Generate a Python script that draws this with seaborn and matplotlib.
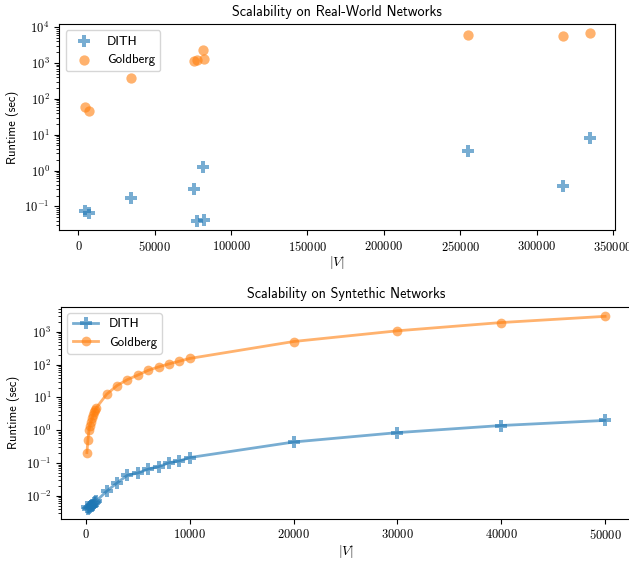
import math
import matplotlib
matplotlib.use("Agg")
import matplotlib.pyplot as plt
from matplotlib.ticker import FuncFormatter, LogLocator
import seaborn as sns
import pandas as pd

# ---------------- data ----------------
real_nodes = [4039, 7115, 34546, 75879, 77360, 81306, 82168, 255000, 317080, 334863]
real_dith = [0.075, 0.065, 0.17, 0.31, 0.040, 1.25, 0.043, 3.6, 0.37, 8.0]
real_goldberg = [58, 45, 380, 1150, 1230, 2300, 1300, 6000, 5700, 6700]

syn_nodes = [100, 200, 300, 400, 500, 600, 700, 800, 900, 1000,
             2000, 3000, 4000, 5000, 6000, 7000, 8000, 9000, 10000,
             20000, 30000, 40000, 50000]
syn_dith = [0.0045, 0.0040, 0.0043, 0.0046, 0.0048, 0.0051, 0.0055, 0.0060, 0.0065, 0.0070,
            0.014, 0.025, 0.043, 0.050, 0.066, 0.078, 0.103, 0.117, 0.148,
            0.44, 0.85, 1.40, 2.0]
syn_goldberg = [0.21, 0.52, 1.0, 1.4, 1.8, 2.3, 2.9, 3.5, 4.2, 4.8,
                12.5, 23, 35, 48, 67, 85, 105, 127, 154,
                505, 1070, 1910, 2950]

series_names = ["DITH", "Goldberg"]
colors = {"DITH": "#1f77b4", "Goldberg": "#ff7f0e"}
markers = {"DITH": "P", "Goldberg": "o"}

# ---------------- style ----------------
plt.rcParams["mathtext.fontset"] = "cm"
plt.rcParams["axes.formatter.use_mathtext"] = True
plt.rcParams["font.family"] = ["cmss10", "DejaVu Sans"]
plt.rcParams["axes.unicode_minus"] = False

fig = plt.figure(figsize=(6.29, 5.62), dpi=100)
W, H = 629, 562
def px_axes(l, t, r, b):
    return fig.add_axes([l / W, 1 - b / H, (r - l) / W, (b - t) / H])

ax1 = px_axes(59.3, 24, 615, 230)
ax2 = px_axes(61, 306.7, 631, 518.7)

int_fmt = FuncFormatter(lambda v, p: r"$%d$" % int(round(v)))
def log_fmt(v, p):
    e = int(round(math.log10(v)))
    return r"$10^{%d}$" % e
logf = FuncFormatter(log_fmt)

TITLE_FS = 10.2
LABEL_FS = 9
TICK_FS = 9
LEG_FS = 9.3

# ---------------- top: real-world ----------------
df_real = pd.DataFrame({"nodes": real_nodes * 2,
                        "runtime": real_dith + real_goldberg,
                        "method": ["DITH"] * len(real_nodes) + ["Goldberg"] * len(real_nodes)})
for m in series_names:
    d = df_real[df_real.method == m]
    sns.scatterplot(data=d, x="nodes", y="runtime", ax=ax1, marker=markers[m],
                    color=colors[m], s=72 if m == "DITH" else 55, alpha=0.6,
                    linewidth=0, label=m)
ax1.set_yscale("log")
ax1.set_title("Scalability on Real-World Networks", fontsize=TITLE_FS)
ax1.set_xlabel(r"$|V|$", fontsize=10, labelpad=0.5)
ax1.set_ylabel("Runtime (sec)", fontsize=LABEL_FS)
ax1.set_xticks([0, 50000, 100000, 150000, 200000, 250000, 300000, 350000])
ax1.xaxis.set_major_formatter(int_fmt)
ax1.yaxis.set_major_locator(LogLocator(base=10))
ax1.yaxis.set_major_formatter(logf)
ax1.legend(loc="upper left", fontsize=LEG_FS)

# ---------------- bottom: synthetic ----------------
df_syn = pd.DataFrame({"nodes": syn_nodes * 2,
                       "runtime": syn_dith + syn_goldberg,
                       "method": ["DITH"] * len(syn_nodes) + ["Goldberg"] * len(syn_nodes)})
for m in series_names:
    d = df_syn[df_syn.method == m]
    sns.lineplot(data=d, x="nodes", y="runtime", ax=ax2, marker=markers[m],
                 color=colors[m], markersize=8 if m == "DITH" else 7,
                 alpha=0.6, linewidth=2,
                 markeredgewidth=0, label=m)
ax2.set_yscale("log")
ax2.set_title("Scalability on Syntethic Networks", fontsize=TITLE_FS)
ax2.set_xlabel(r"$|V|$", fontsize=10, labelpad=0.5)
ax2.set_ylabel("Runtime (sec)", fontsize=LABEL_FS)
ax2.set_xticks([0, 10000, 20000, 30000, 40000, 50000])
ax2.xaxis.set_major_formatter(int_fmt)
ax2.yaxis.set_major_locator(LogLocator(base=10))
ax2.yaxis.set_major_formatter(logf)
ax2.legend(loc="upper left", fontsize=LEG_FS)

for ax in (ax1, ax2):
    ax.tick_params(labelsize=TICK_FS)

fig.savefig("out.png", dpi=100)
